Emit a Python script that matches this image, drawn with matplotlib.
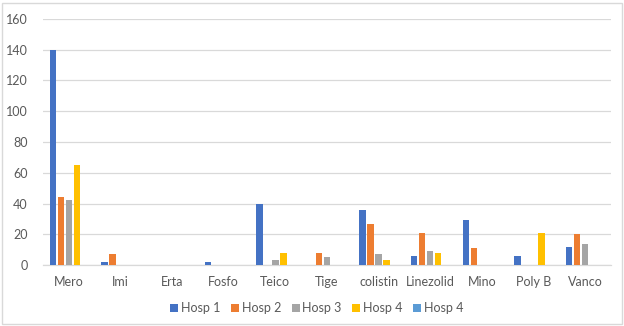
import matplotlib
matplotlib.use("Agg")
import matplotlib.pyplot as plt
import numpy as np
from matplotlib.patches import Rectangle
from matplotlib.lines import Line2D

categories = ["Mero", "Imi", "Erta", "Fosfo", "Teico", "Tige", "colistin", "Linezolid", "Mino", "Poly B", "Vanco"]
series_names = ["Hosp 1", "Hosp 2", "Hosp 3", "Hosp 4", "Hosp 4"]
hosp1 = [140, 2, 0, 2, 40, 0, 36, 6, 29, 6, 12]
hosp2 = [44, 7, 0, 0, 0, 8, 27, 21, 11, 0, 20]
hosp3 = [42, 0, 0, 0, 3, 5, 7, 9, 0, 0, 14]
hosp4 = [65, 0, 0, 0, 8, 0, 3, 8, 0, 21, 0]
hosp4b = [0, 0, 0, 0, 0, 0, 0, 0, 0, 0, 0]
colors = ["#4472C4", "#ED7D31", "#A5A5A5", "#FFC000", "#5B9BD5"]

plt.rcParams['font.family'] = ['Lato', 'DejaVu Sans']
fig = plt.figure(figsize=(6.24, 3.26), dpi=100)
ax = fig.add_axes([0.069, 0.187, 0.910, 0.755])

x = np.arange(len(categories))
step = 0.155
width = 0.125
data = [hosp1, hosp2, hosp3, hosp4, hosp4b]
for i, (vals, c, name) in enumerate(zip(data, colors, series_names)):
    ax.bar(x + (i - 2) * step, vals, width=width, color=c, label=name, zorder=3)

ax.set_xlim(-0.5, len(categories) - 0.5)
ax.set_ylim(0, 160)
ax.set_yticks(np.arange(0, 161, 20))
ax.set_xticks(x)
ax.set_xticklabels(categories)
ax.grid(axis='y', color='#D9D9D9', linewidth=0.9, zorder=0)
for s in ['top', 'right', 'left']:
    ax.spines[s].set_visible(False)
ax.spines['bottom'].set_color('#D9D9D9')
ax.spines['bottom'].set_linewidth(0.9)
ax.tick_params(axis='both', length=0, labelsize=9, colors='#595959', pad=8)
ax.tick_params(axis='y', pad=11)

handles = [Line2D([], [], marker='s', linestyle='none', markersize=5.2, color=c,
                  markeredgewidth=0) for c in colors]
leg = fig.legend(handles, series_names, loc='center', bbox_to_anchor=(0.508, 0.055),
                 ncol=5, frameon=False, fontsize=9, handlelength=0.6,
                 handletextpad=0.25, columnspacing=0.85)
for t in leg.get_texts():
    t.set_color('#595959')

fig.patches.append(Rectangle((0.004, 0.006), 0.992, 0.984, transform=fig.transFigure,
                             fill=False, edgecolor='#D9D9D9', linewidth=1.0))
fig.savefig("out.png", dpi=100)
